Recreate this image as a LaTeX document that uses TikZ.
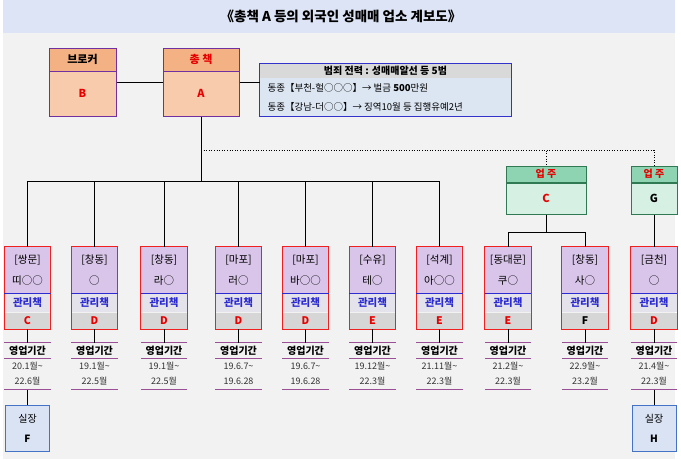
\documentclass[tikz,border=0pt]{standalone}
\usepackage{fontspec}
\setmainfont{Noto Sans CJK KR}
\definecolor{bandblue}{HTML}{DCE4F5}
\definecolor{bggrey}{HTML}{F2F2F2}
\definecolor{orghead}{HTML}{F4B183}
\definecolor{orgbody}{HTML}{F8CBAD}
\definecolor{boxpurple}{HTML}{7030A0}
\definecolor{infoblue}{HTML}{3333CC}
\definecolor{infofill}{HTML}{DCE6F2}
\definecolor{hdrgrey}{HTML}{D9D9D9}
\definecolor{lav}{HTML}{D9C5E9}
\definecolor{rolegrey}{HTML}{E4E2EA}
\definecolor{gradegrey}{HTML}{D6D6D6}
\definecolor{boxred}{HTML}{F02020}
\definecolor{roleblue}{HTML}{2B2BD0}
\definecolor{txtred}{HTML}{E60000}
\definecolor{minthead}{HTML}{8FD4B2}
\definecolor{mintbody}{HTML}{D6F1E3}
\definecolor{grn}{HTML}{2F7A52}
\definecolor{perline}{HTML}{9A4F96}
\definecolor{chiefblue}{HTML}{4472C4}
\definecolor{chieffill}{HTML}{DAE3F3}
\definecolor{dategrey}{HTML}{333333}
\begin{document}
\begin{tikzpicture}[x=1pt,y=-1pt,font=\fontsize{10}{12}\selectfont,
    wire/.style={line width=1pt},
    dotline/.style={line width=1pt, dash pattern=on 1pt off 1.6pt},
    frame/.style={draw=boxpurple, line width=1pt, inner sep=0pt},
    ownbox/.style={draw=grn, line width=1pt, inner sep=0pt, minimum height=#1},
    cell/.style={minimum width=46pt, inner sep=0pt},
    per/.style={perline, line width=1pt},
    chief/.style={draw=chiefblue, fill=chieffill, line width=1pt, minimum width=44pt,
      minimum height=46pt, align=center, inner sep=0pt,
      font=\fontsize{10}{20}\selectfont}]
  \useasboundingbox (0,0) rectangle (681,459);
  % Background and title
  \fill[bggrey] (3,33) rectangle (675,459);
  \fill[bandblue] (3,0) rectangle (675,33);
  \node[font=\bfseries\fontsize{13.5}{15}\selectfont] (title) at (341,16)
    {《총책 A 등의 외국인 성매매 업소 계보도》};
  % Broker and boss
  \node[frame, fill=orgbody, minimum width=67pt, minimum height=68pt] (brk) at (82.5,82) {};
  \node[frame, fill=orghead, minimum width=67pt, minimum height=23pt, anchor=north,
    font=\bfseries\fontsize{11}{13}\selectfont] (brkh) at (brk.north) {브로커};
  \node[text=txtred, font=\bfseries\fontsize{11}{13}\selectfont] (brkl) at (82.5,93.5) {B};
  \node[frame, fill=orgbody, minimum width=76pt, minimum height=68pt] (tot) at (201,82) {};
  \node[frame, fill=orghead, minimum width=76pt, minimum height=23pt, anchor=north,
    text=txtred, font=\bfseries\fontsize{11}{13}\selectfont] (toth) at (tot.north) {총 책};
  \node[text=txtred, font=\bfseries\fontsize{11}{13}\selectfont] (totl) at (201,93.5) {A};
  % Criminal record
  \node[fill=infofill, minimum width=251pt, minimum height=52pt, inner sep=0pt] (info) at (385.5,90) {};
  \node[fill=hdrgrey, minimum width=251pt, minimum height=14pt, inner sep=0pt, anchor=north,
    font=\bfseries\fontsize{10}{11}\selectfont] (infoh) at (info.north) {범죄 전력 : 성매매알선 등 5범};
  \draw[infoblue, line width=1pt] (info.north west) rectangle (info.south east);
  \node[anchor=west, font=\fontsize{9.5}{10}\selectfont] (inf1) at (264,88)
    {동종【부천-헐○○○】→ 벌금 \textbf{500}만원};
  \node[anchor=west, font=\fontsize{9.5}{10}\selectfont] (inf2) at (264,107)
    {동종【강남-더○○】→ 징역10월 등 집행유예2년};
  \draw[wire] (brk.east) -- (tot.west);
  \draw[wire] (tot.east) -- (tot.east -| info.west);
  % Owners
  \node[ownbox=16pt, fill=minthead, minimum width=80pt, text=txtred,
    font=\bfseries\fontsize{10}{11}\selectfont] (ownCh) at (546,174) {업 주};
  \node[ownbox=31pt, fill=mintbody, minimum width=80pt, anchor=north, text=txtred,
    font=\bfseries\fontsize{11}{13}\selectfont] (ownC) at (ownCh.south) {C};
  \node[ownbox=16pt, fill=minthead, minimum width=46pt, text=txtred,
    font=\bfseries\fontsize{10}{11}\selectfont] (ownGh) at (654,174) {업 주};
  \node[ownbox=31pt, fill=mintbody, minimum width=46pt, anchor=north,
    font=\bfseries\fontsize{11}{13}\selectfont] (ownG) at (ownGh.south) {G};
  % Managers
  \foreach \i/\x/\area/\who/\grd/\gc/\from/\to in {
      1/27.5/쌍문/띠○○/C/txtred/20.1월\textasciitilde/22.6월,
      2/94.5/창동/○/D/txtred/19.1월\textasciitilde/22.5월,
      3/164/창동/라○/D/txtred/19.1월\textasciitilde/22.5월,
      4/238.5/마포/러○/D/txtred/19.6.7\textasciitilde/19.6.28,
      5/305.5/마포/바○○/D/txtred/19.6.7\textasciitilde/19.6.28,
      6/372.5/수유/테○/E/txtred/19.12월\textasciitilde/22.3월,
      7/439.5/석계/아○○/E/txtred/21.11월\textasciitilde/22.3월,
      8/508/동대문/쿠○/E/txtred/21.2월\textasciitilde/22.3월,
      9/585/창동/사○/F/black/22.9월\textasciitilde/23.2월,
      10/654/금천/○/D/txtred/21.4월\textasciitilde/22.3월} {
    \node[cell, fill=lav, minimum height=46pt, align=center,
      font=\fontsize{10.5}{21}\selectfont] (s\i) at (\x,270) {[\area]\\\who};
    \node[cell, fill=rolegrey, minimum height=19pt, anchor=north, text=roleblue,
      font=\bfseries\fontsize{10.5}{12}\selectfont] (r\i) at (s\i.south) {관리책};
    \node[cell, fill=gradegrey, minimum height=16pt, anchor=north, text=\gc,
      font=\bfseries\fontsize{10.5}{12}\selectfont] (g\i) at (r\i.south) {\grd};
    \draw[boxred, line width=1pt] (s\i.north west) rectangle (g\i.south east);
    \draw[roleblue, line width=1.3pt] (s\i.south west) -- (s\i.south east);
    % business period
    \node[cell, minimum height=15pt, font=\bfseries\fontsize{10}{11}\selectfont] (p\i) at (\x,350.5) {영업기간};
    \node[cell, minimum height=31pt, anchor=north, align=center, text=dategrey,
      font=\fontsize{9}{15}\selectfont] (d\i) at (p\i.south) {\from\\\to};
    \draw[per] (p\i.north west) -- (p\i.north east);
    \draw[per] (p\i.south west) -- (p\i.south east);
    \draw[per] (d\i.south west) -- (d\i.south east);
    \draw[wire] (g\i.south) -- (p\i.north);
  }
  % Connectors
  \coordinate (bus) at (0,181);
  \coordinate (cbus) at (0,232);
  \coordinate (dotrow) at (0,150);
  \draw[wire] (tot.south) -- (tot.south |- bus);
  \foreach \i in {1,...,7}
    \draw[wire] (tot.south |- bus) -| (s\i.north);
  \draw[dotline] (tot.south |- dotrow) -| (ownCh.north);
  \draw[dotline] (tot.south |- dotrow) -| (ownGh.north);
  \draw[wire] (ownC.south) -- (ownC.south |- cbus) -| (s8.north);
  \draw[wire] (ownC.south |- cbus) -| (s9.north);
  \draw[wire] (ownG.south) -- (s10.north);
  % Room chiefs
  \node[chief] (chfF) at (27.5,428) {실장\\\textbf{F}};
  \node[chief] (chfH) at (654,428) {실장\\\textbf{H}};
  \draw[wire] (d1.south) -- (chfF.north);
  \draw[wire] (d10.south) -- (chfH.north);
\end{tikzpicture}
\end{document}
